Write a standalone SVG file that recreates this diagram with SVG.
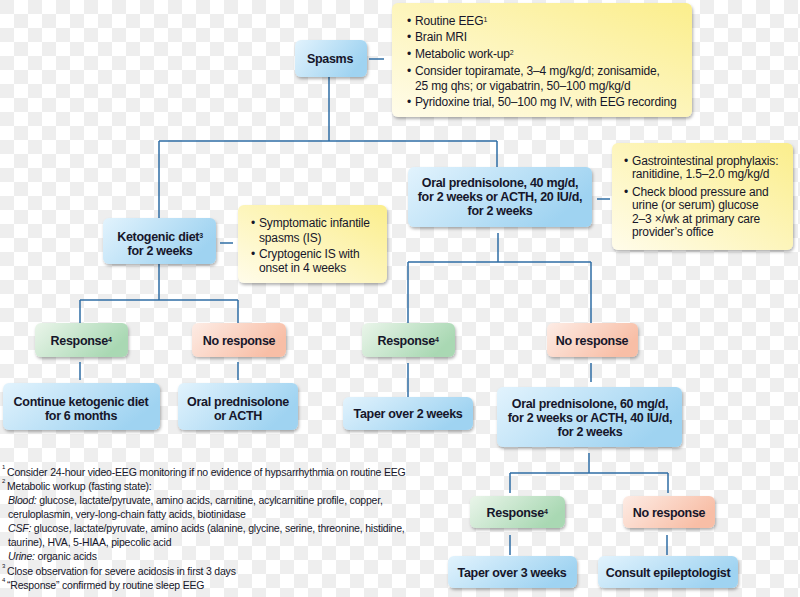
<svg xmlns="http://www.w3.org/2000/svg" width="800" height="597" viewBox="0 0 800 597">
<defs>
<pattern id="chk" patternUnits="userSpaceOnUse" width="28" height="28">
<rect width="28" height="28" fill="#ffffff"/>
<rect width="14" height="14" fill="#eeeeee"/>
<rect x="14" y="14" width="14" height="14" fill="#eeeeee"/>
</pattern>
<linearGradient id="gBlue" x1="0" y1="0" x2="1" y2="0.4">
<stop offset="0" stop-color="#e2f3fd"/>
<stop offset="1" stop-color="#9fd3f1"/>
</linearGradient>
<linearGradient id="gGreen" x1="0" y1="0" x2="1" y2="0.4">
<stop offset="0" stop-color="#eaf5ea"/>
<stop offset="1" stop-color="#a9d8b3"/>
</linearGradient>
<linearGradient id="gPink" x1="0" y1="0" x2="1" y2="0.4">
<stop offset="0" stop-color="#fdece5"/>
<stop offset="1" stop-color="#f8bea6"/>
</linearGradient>
<linearGradient id="gYellow" x1="0" y1="1" x2="1" y2="0">
<stop offset="0" stop-color="#fffcea"/>
<stop offset="1" stop-color="#fbee8c"/>
</linearGradient>
<filter id="sh" x="-10%" y="-10%" width="125%" height="135%">
<feDropShadow dx="1" dy="2" stdDeviation="1.5" flood-color="#000" flood-opacity="0.3"/>
</filter>
</defs>
<style>
.b{fill:url(#gBlue);filter:url(#sh)}
.g{fill:url(#gGreen);filter:url(#sh)}
.p{fill:url(#gPink);filter:url(#sh)}
.y{fill:url(#gYellow);filter:url(#sh)}
.t{font-family:"Liberation Sans",Arial,sans-serif;font-weight:bold;font-size:12.5px;fill:#16162a;text-anchor:middle;letter-spacing:-0.3px}
.n{font-family:"Liberation Sans",Arial,sans-serif;font-size:12px;fill:#16162a;letter-spacing:-0.15px}
.f{font-family:"Liberation Sans",Arial,sans-serif;font-size:10.5px;fill:#16162a;letter-spacing:-0.2px}
.i{font-style:italic}
.c{fill:none;stroke:#2f6ea5;stroke-width:1.5}
</style>
<rect width="800" height="597" fill="url(#chk)"/>

<g id="connectors">
<path class="c" d="M369,59H384"/>
<path class="c" d="M329,77V141M159,141H497M159,141V218M497,141V167"/>
<path class="c" d="M220,243H233"/>
<path class="c" d="M159,264V300M80,300H238M80,300V323M238,300V323"/>
<path class="c" d="M80,362V380M238,362V380"/>
<path class="c" d="M597,199H610"/>
<path class="c" d="M498,233V262M408,262H591M408,262V323M591,262V323"/>
<path class="c" d="M408,363V397M591,363V382"/>
<path class="c" d="M589,453V473M510,473H668M510,473V493M668,473V493"/>
<path class="c" d="M510,535V555M667,535V555"/>
</g>

<g id="spasms">
<rect class="b" x="295" y="40" width="72" height="37" rx="6"/>
<text class="t" x="330" y="63">Spasms</text>
</g>

<g id="workup">
<rect class="y" x="392" y="3" width="300" height="114" rx="6"/>
<text class="n"><tspan x="407" y="25">•</tspan><tspan x="415" y="25">Routine EEG<tspan font-size="7" baseline-shift="super">1</tspan></tspan></text>
<text class="n"><tspan x="407" y="41">•</tspan><tspan x="415" y="41">Brain MRI</tspan></text>
<text class="n"><tspan x="407" y="58">•</tspan><tspan x="415" y="58">Metabolic work-up<tspan font-size="7" baseline-shift="super">2</tspan></tspan></text>
<text class="n"><tspan x="407" y="75">•</tspan><tspan x="415" y="75">Consider topiramate, 3–4 mg/kg/d; zonisamide,</tspan><tspan x="415" y="90">25 mg qhs; or vigabatrin, 50–100 mg/kg/d</tspan></text>
<text class="n"><tspan x="407" y="106">•</tspan><tspan x="415" y="106">Pyridoxine trial, 50–100 mg IV, with EEG recording</tspan></text>
</g>

<g id="keto">
<rect class="b" x="103" y="218" width="113" height="46" rx="6"/>
<text class="t"><tspan x="160" y="241">Ketogenic diet<tspan font-size="7" baseline-shift="super">3</tspan></tspan><tspan x="160" y="255">for 2 weeks</tspan></text>
</g>

<g id="keto-note">
<rect class="y" x="238" y="205" width="149" height="78" rx="6"/>
<text class="n"><tspan x="251" y="227">•</tspan><tspan x="259" y="227">Symptomatic infantile</tspan><tspan x="259" y="242">spasms (IS)</tspan></text>
<text class="n"><tspan x="251" y="258">•</tspan><tspan x="259" y="258">Cryptogenic IS with</tspan><tspan x="259" y="272">onset in 4 weeks</tspan></text>
</g>

<g id="oral40">
<rect class="b" x="408" y="167" width="184" height="60" rx="6"/>
<text class="t"><tspan x="500" y="187">Oral prednisolone, 40 mg/d,</tspan><tspan x="500" y="201">for 2 weeks or ACTH, 20 IU/d,</tspan><tspan x="500" y="215">for 2 weeks</tspan></text>
</g>

<g id="oral40-note">
<rect class="y" x="612" y="143" width="181" height="107" rx="6"/>
<text class="n"><tspan x="624" y="165">•</tspan><tspan x="632" y="165">Gastrointestinal prophylaxis:</tspan><tspan x="632" y="178">ranitidine, 1.5–2.0 mg/kg/d</tspan></text>
<text class="n"><tspan x="624" y="196">•</tspan><tspan x="632" y="196">Check blood pressure and</tspan><tspan x="632" y="209">urine (or serum) glucose</tspan><tspan x="632" y="223">2–3 ×/wk at primary care</tspan><tspan x="632" y="236">provider’s office</tspan></text>
</g>

<g id="resp-left">
<rect class="g" x="35" y="323" width="93" height="34" rx="6"/>
<text class="t" x="81" y="345">Response<tspan font-size="7" baseline-shift="super">4</tspan></text>
</g>
<g id="noresp-left">
<rect class="p" x="192" y="323" width="94" height="34" rx="6"/>
<text class="t" x="239" y="345">No response</text>
</g>
<g id="continue">
<rect class="b" x="3" y="383" width="157" height="47" rx="6"/>
<text class="t"><tspan x="81" y="406">Continue ketogenic diet</tspan><tspan x="81" y="420">for 6 months</tspan></text>
</g>
<g id="oral-acth">
<rect class="b" x="178" y="383" width="120" height="47" rx="6"/>
<text class="t"><tspan x="238" y="406">Oral prednisolone</tspan><tspan x="238" y="420">or ACTH</tspan></text>
</g>

<g id="resp-center">
<rect class="g" x="362" y="323" width="93" height="34" rx="6"/>
<text class="t" x="408" y="345">Response<tspan font-size="7" baseline-shift="super">4</tspan></text>
</g>
<g id="noresp-center">
<rect class="p" x="547" y="323" width="91" height="34" rx="6"/>
<text class="t" x="592" y="345">No response</text>
</g>
<g id="taper2">
<rect class="b" x="343" y="397" width="130" height="33" rx="6"/>
<text class="t" x="408" y="418">Taper over 2 weeks</text>
</g>
<g id="oral60">
<rect class="b" x="497" y="387" width="185" height="60" rx="6"/>
<text class="t"><tspan x="590" y="408">Oral prednisolone, 60 mg/d,</tspan><tspan x="590" y="422">for 2 weeks or ACTH, 40 IU/d,</tspan><tspan x="590" y="436">for 2 weeks</tspan></text>
</g>

<g id="resp-bottom">
<rect class="g" x="470" y="496" width="95" height="32" rx="6"/>
<text class="t" x="517" y="517">Response<tspan font-size="7" baseline-shift="super">4</tspan></text>
</g>
<g id="noresp-bottom">
<rect class="p" x="623" y="496" width="92" height="32" rx="6"/>
<text class="t" x="669" y="517">No response</text>
</g>
<g id="taper3">
<rect class="b" x="448" y="556" width="129" height="32" rx="6"/>
<text class="t" x="512" y="577">Taper over 3 weeks</text>
</g>
<g id="consult">
<rect class="b" x="598" y="556" width="140" height="32" rx="6"/>
<text class="t" x="668" y="577">Consult epileptologist</text>
</g>

<g id="footnotes">
<text class="f"><tspan x="2" y="469" font-size="6">1</tspan><tspan x="7" y="476">Consider 24-hour video-EEG monitoring if no evidence of hypsarrhythmia on routine EEG</tspan></text>
<text class="f"><tspan x="2" y="483" font-size="6">2</tspan><tspan x="7" y="490">Metabolic workup (fasting state):</tspan></text>
<text class="f"><tspan x="8" y="504" class="i">Blood:</tspan><tspan> glucose, lactate/pyruvate, amino acids, carnitine, acylcarnitine profile, copper,</tspan><tspan x="8" y="518">ceruloplasmin, very-long-chain fatty acids, biotinidase</tspan></text>
<text class="f"><tspan x="8" y="532" class="i">CSF:</tspan><tspan> glucose, lactate/pyruvate, amino acids (alanine, glycine, serine, threonine, histidine,</tspan><tspan x="8" y="546">taurine), HVA, 5-HIAA, pipecolic acid</tspan></text>
<text class="f"><tspan x="8" y="560" class="i">Urine:</tspan><tspan> organic acids</tspan></text>
<text class="f"><tspan x="2" y="568" font-size="6">3</tspan><tspan x="7" y="575">Close observation for severe acidosis in first 3 days</tspan></text>
<text class="f"><tspan x="2" y="582" font-size="6">4</tspan><tspan x="7" y="589">“Response” confirmed by routine sleep EEG</tspan></text>
</g>
</svg>
